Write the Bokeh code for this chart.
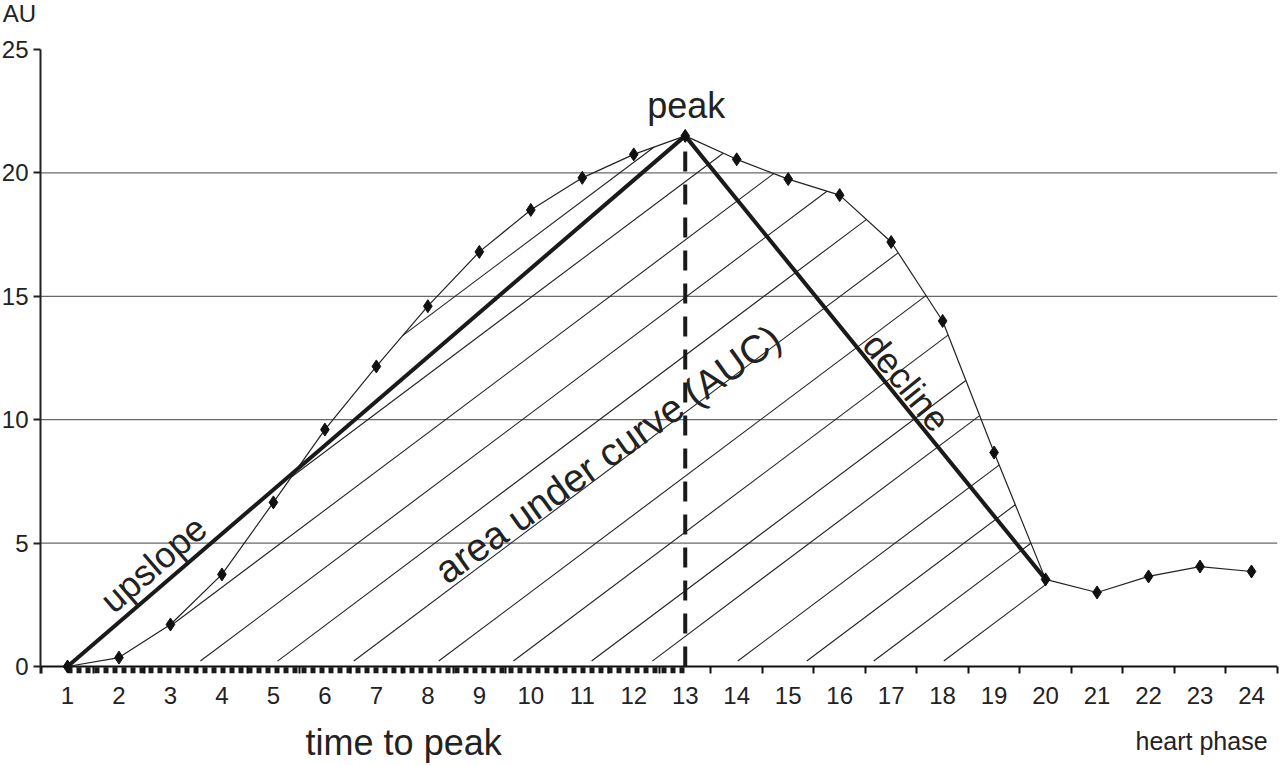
import math
import numpy as np
from bokeh.plotting import figure
from bokeh.models import Range1d, FixedTicker, Label
from bokeh.embed import file_html
from bokeh.resources import INLINE

# ---------------- data ----------------
phase = list(range(1, 25))
au = [0.0, 0.36, 1.70, 3.73, 6.65, 9.60, 12.16, 14.60, 16.80, 18.50, 19.80, 20.75,
      21.50, 20.55, 19.75, 19.10, 17.20, 14.00, 8.67, 3.53, 3.00, 3.65, 4.05, 3.85]
start_phase = 1
peak_phase = 13
end_phase = 20
x_ticks = phase
x_minor = [k + 0.5 for k in range(0, 25)]
y_ticks = [0, 5, 10, 15, 20, 25]
grid_levels = [5, 10, 15, 20]
# where the hatch lines leave the baseline (phase units)
hatch_starts = [-0.92, 0.58, 2.09, 3.58, 5.08, 6.56, 8.21, 9.66, 11.18, 12.36,
                14.02, 15.36, 16.66, 18.02]
hatch_slope = 1.564      # AU per phase
hatch_base = 0.22        # AU above baseline where hatching starts
hatch_left = 3.0         # hatching begins here

FONT = "Liberation Sans"
INK = "#222222"

# scale: 51.478 px per phase, 24.68 px per AU; whole canvas is the frame
SX, SY = 51.478, 24.68
X_AXIS_AT = 1 - 27 / SX          # position of the y axis (phase units)
Y_BOTTOM = -0.3                  # bottom of the tick row (AU)

p = figure(width=1280, height=765, title=None,
           x_range=Range1d(1 - 67 / SX, 1 + (1280 - 67) / SX),
           y_range=Range1d(-(765 - 666) / SY, 666 / SY),
           output_backend="svg", toolbar_location=None,
           min_border_left=0, min_border_right=0,
           min_border_top=0, min_border_bottom=0)
p.outline_line_color = None
p.background_fill_color = "white"
p.border_fill_color = "white"
p.xgrid.visible = False
p.ygrid.visible = False

# x axis (inside the frame)
xa = p.xaxis[0]
xa.fixed_location = Y_BOTTOM
xa.bounds = (X_AXIS_AT, 24.5)
xa.ticker = FixedTicker(ticks=x_ticks, minor_ticks=x_minor)
xa.axis_line_color = None
xa.major_tick_in = 0
xa.major_tick_out = 0
xa.minor_tick_in = 7
xa.minor_tick_out = 0
xa.minor_tick_line_color = "#111111"
xa.minor_tick_line_width = 2
xa.major_label_standoff = 13
xa.major_label_text_font = FONT
xa.major_label_text_font_size = "24px"
xa.major_label_text_color = INK

# y axis (inside the frame)
ya = p.yaxis[0]
ya.fixed_location = X_AXIS_AT
ya.bounds = (Y_BOTTOM, 25)
ya.ticker = FixedTicker(ticks=y_ticks)
ya.axis_line_color = "#222222"
ya.axis_line_width = 2
ya.major_tick_in = 0
ya.major_tick_out = 7
ya.major_tick_line_width = 2
ya.major_tick_line_color = "#222222"
ya.minor_tick_out = 0
ya.minor_tick_in = 0
ya.major_label_standoff = 5
ya.major_label_text_font = FONT
ya.major_label_text_font_size = "24px"
ya.major_label_text_color = INK

# horizontal grid lines between the axes
p.segment([X_AXIS_AT] * len(grid_levels), grid_levels,
          [24.5] * len(grid_levels), grid_levels,
          line_color="#6a6a6a", line_width=1.2)

# ---------------- hatching (area under curve) ----------------
xs_f = np.linspace(hatch_left, end_phase, 6000)
curve = np.interp(xs_f, phase, au)
x0s, y0s, x1s, y1s = [], [], [], []
for x0 in hatch_starts:
    yl = hatch_base + hatch_slope * (xs_f - x0)
    inside = (yl < curve) & (xs_f >= x0)
    d = np.diff(np.concatenate([[0], inside.astype(int), [0]]))
    starts = np.where(d == 1)[0]
    ends = np.where(d == -1)[0] - 1
    for s, e in zip(starts, ends):
        dx = (xs_f[e] - xs_f[s]) * SX
        dy = (yl[e] - yl[s]) * SY
        if math.hypot(dx, dy) > 15:
            x0s.append(xs_f[s]); y0s.append(yl[s])
            x1s.append(xs_f[e]); y1s.append(yl[e])
p.segment(x0s, y0s, x1s, y1s, line_color="#222222", line_width=1.1)

# baseline (x axis line)
p.segment([X_AXIS_AT], [0], [24.5], [0], line_color="#111111", line_width=2)

# data curve
p.line(phase, au, line_color="#222222", line_width=1.2)

pi = phase.index(peak_phase)
ei = phase.index(end_phase)
si = phase.index(start_phase)
# upslope and decline
p.line([phase[si], phase[pi]], [au[si], au[pi]], line_color="#1a1a1a", line_width=4)
p.line([phase[pi], phase[ei]], [au[pi], au[ei]], line_color="#1a1a1a", line_width=4)
# time-to-peak vertical dashed
p.line([phase[pi], phase[pi]], [0, au[pi]], line_color="#1a1a1a", line_width=4,
       line_dash="20 13")
# time-to-peak dotted along baseline
p.line([phase[si], phase[pi]], [-0.15, -0.15], line_color="#1a1a1a", line_width=6,
       line_dash="5 4")

# markers
p.scatter(phase, au, marker="diamond", size=13, fill_color="#111111",
          line_color="#111111")

# ---------------- labels ----------------
up_angle = math.atan2((au[pi] - au[si]) * SY, (phase[pi] - phase[si]) * SX)
dn_angle = math.atan2((au[ei] - au[pi]) * SY, (phase[ei] - phase[pi]) * SX)
auc_angle = math.radians(35.5)


def lab(x, y, text, size, angle=0.0, align="center", baseline="middle"):
    p.add_layout(Label(x=x, y=y, text=text, angle=angle, text_align=align,
                       text_baseline=baseline, text_font=FONT,
                       text_font_size=size, text_color=INK))


lab(13.02, 22.73, "peak", "36px")
lab(2.67, 4.15, "upslope", "36px", angle=up_angle)
lab(8.22, 3.74, "area under curve (AUC)", "39px", angle=auc_angle,
    align="left", baseline="alphabetic")
lab(17.30, 11.51, "decline", "36px", angle=dn_angle)
lab(7.53, -3.08, "time to peak", "36px")
lab(23.03, -3.0, "heart phase", "25px")
lab(-0.26, 26.44, "AU", "24px", align="left")

open("out.html", "w").write(file_html(p, INLINE))
